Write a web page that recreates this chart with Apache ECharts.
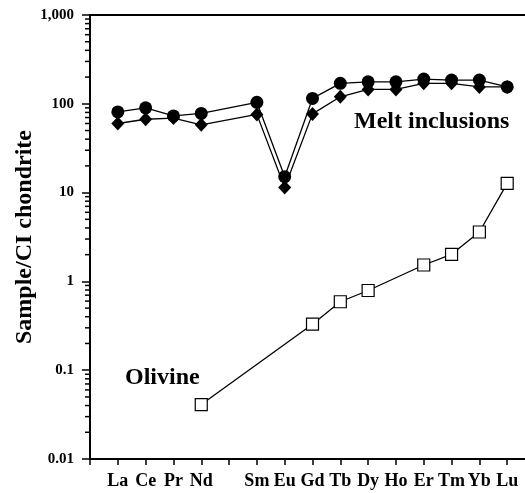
<!DOCTYPE html>
<html>
<head>
<meta charset="utf-8">
<script src="https://cdn.jsdelivr.net/npm/echarts@6/dist/echarts.min.js"></script>
<style>
    html, body { margin: 0; padding: 0; background: #fff; }
    #main { width: 525px; height: 493px; }
</style>
</head>
<body>
<div id="main"></div>
<script>
// REE, La..Lu (Pm left empty), blank slot at each end of the axis
var X_LABELS = ['', 'La', 'Ce', 'Pr', 'Nd', '', 'Sm', 'Eu', 'Gd', 'Tb', 'Dy', 'Ho', 'Er', 'Tm', 'Yb', 'Lu', ''];

// values per element La..Lu (Pm = null)
var MELT_HIGH = [81, 90, 73, 78, null, 104, 15.1, 115, 170, 177, 177, 190, 185, 185, 155];
var MELT_LOW = [60, 67, 69, 58, null, 76, 11.4, 77, 120, 145, 145, 170, 170, 155, 155];
var OLIVINE = [null, null, null, 0.041, null, null, null, 0.33, 0.59, 0.79, null, 1.53, 2.02, 3.6, 12.7];

var Y_TICKS = [0.01, 0.1, 1, 10, 100, 1000];
var Y_TICK_LABELS = ['0.01', '0.1', '1', '10', '100', '1,000'];
var MINOR_STEPS = [2, 3, 4, 5, 6, 7, 8, 9];

var FONT = 'Liberation Serif';

// pad one empty slot before La and after Lu
function pad(arr) {
    return [null].concat(arr).concat([null]);
}

var minorTicks = [];
Y_TICKS.slice(0, -1).forEach(function (d) {
    MINOR_STEPS.forEach(function (k) { minorTicks.push(k * d); });
});

var myChart = echarts.init(document.getElementById('main'));

var option = {
    animation: false,
    backgroundColor: '#fff',
    grid: { left: 90, right: -10, top: 15, bottom: 34, outerBoundsMode: 'none' },
    xAxis: [{
        type: 'category',
        data: X_LABELS,
        boundaryGap: false,
        position: 'bottom',
        axisLine: { lineStyle: { color: '#000', width: 2 } },
        axisTick: { show: true, interval: 0, length: 6, lineStyle: { color: '#000', width: 1.5 } },
        axisLabel: {
            interval: 0, margin: 13,
            color: '#000', fontFamily: FONT, fontWeight: 'bold', fontSize: 18
        },
        splitLine: { show: false }
    }, {
        type: 'category',
        data: X_LABELS,
        boundaryGap: false,
        position: 'top',
        axisLine: { lineStyle: { color: '#000', width: 2 } },
        axisTick: { show: false },
        axisLabel: { show: false },
        splitLine: { show: false }
    }],
    yAxis: {
        type: 'log',
        logBase: 10,
        min: 0.01,
        max: 1000,
        name: 'Sample/CI chondrite',
        nameLocation: 'middle',
        nameRotate: 90,
        nameGap: 53,
        nameMoveOverlap: false,
        nameTextStyle: { color: '#000', fontFamily: FONT, fontWeight: 'bold', fontSize: 24 },
        axisLine: { show: true, lineStyle: { color: '#000', width: 2 } },
        axisTick: { show: true, length: 8, lineStyle: { color: '#000', width: 1.5 } },
        axisLabel: {
            margin: 16,
            color: '#000', fontFamily: FONT, fontWeight: 'bold', fontSize: 15,
            formatter: function (v) {
                var i = Y_TICKS.indexOf(v);
                return i >= 0 ? Y_TICK_LABELS[i] : '';
            }
        },
        splitLine: { show: false }
    },
    series: [{
        // log minor ticks (2..9 per decade) on the left axis
        type: 'custom',
        clip: false,
        silent: true,
        data: minorTicks.map(function (v) { return [0, v]; }),
        renderItem: function (params, api) {
            var p = api.coord([0, api.value(1)]);
            return {
                type: 'line',
                shape: { x1: p[0] - 5, y1: p[1], x2: p[0], y2: p[1] },
                style: { stroke: '#000', lineWidth: 1.5 }
            };
        }
    }, {
        name: 'Melt inclusions (low)',
        type: 'line',
        data: pad(MELT_LOW),
        connectNulls: true,
        symbol: 'diamond',
        symbolSize: [13, 14],
        lineStyle: { color: '#000', width: 1.3 },
        itemStyle: { color: '#000' },
        z: 3
    }, {
        name: 'Melt inclusions (high)',
        type: 'line',
        data: pad(MELT_HIGH),
        connectNulls: true,
        symbol: 'circle',
        symbolSize: 13,
        lineStyle: { color: '#000', width: 1.3 },
        itemStyle: { color: '#000' },
        z: 4
    }, {
        name: 'Olivine',
        type: 'line',
        data: pad(OLIVINE),
        connectNulls: true,
        symbol: 'rect',
        symbolSize: 12,
        lineStyle: { color: '#000', width: 1.3 },
        itemStyle: { color: '#fff', borderColor: '#000', borderWidth: 1.2 },
        z: 5
    }],
    graphic: [{
        type: 'text',
        left: 354,
        top: 110,
        style: { text: 'Melt inclusions', fill: '#000', font: 'bold 24px "Liberation Serif"' }
    }, {
        type: 'text',
        left: 125,
        top: 366,
        style: { text: 'Olivine', fill: '#000', font: 'bold 24px "Liberation Serif"' }
    }]
};

myChart.setOption(option);
</script>
</body>
</html>
